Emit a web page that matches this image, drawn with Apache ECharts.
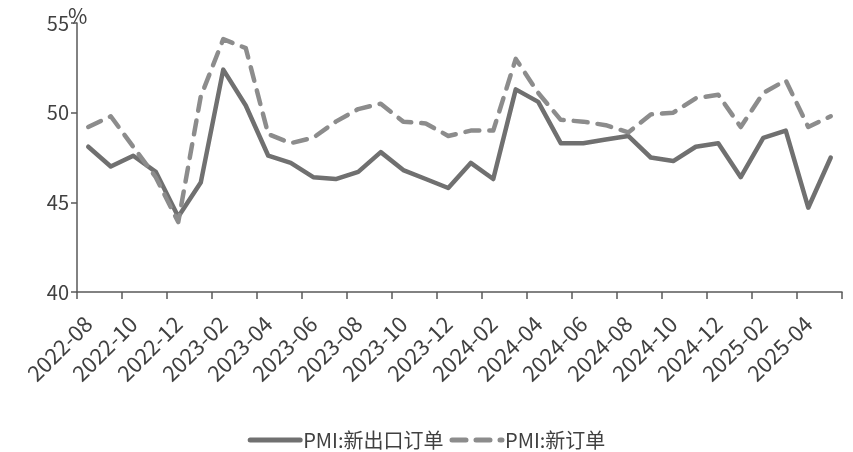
<!DOCTYPE html>
<html><head><meta charset="utf-8">
<script src="https://cdn.jsdelivr.net/npm/echarts@6/dist/echarts.min.js"></script>
<style>html,body{margin:0;padding:0;background:#fff}#c{width:853px;height:452px}</style>
</head><body><div id="c"></div>
<script>
const categories = ['2022-08','2022-09','2022-10','2022-11','2022-12','2023-01','2023-02','2023-03','2023-04','2023-05','2023-06','2023-07','2023-08','2023-09','2023-10','2023-11','2023-12','2024-01','2024-02','2024-03','2024-04','2024-05','2024-06','2024-07','2024-08','2024-09','2024-10','2024-11','2024-12','2025-01','2025-02','2025-03','2025-04','2025-05'];
const exportOrders = [48.1,47.0,47.6,46.7,44.2,46.1,52.4,50.4,47.6,47.2,46.4,46.3,46.7,47.8,46.8,46.3,45.8,47.2,46.3,51.3,50.6,48.3,48.3,48.5,48.7,47.5,47.3,48.1,48.3,46.4,48.6,49.0,44.7,47.5];
const newOrders = [49.2,49.8,48.1,46.4,43.9,50.9,54.1,53.6,48.8,48.3,48.6,49.5,50.2,50.5,49.5,49.4,48.7,49.0,49.0,53.0,51.1,49.6,49.5,49.3,48.9,49.9,50.0,50.8,51.0,49.2,51.1,51.8,49.2,49.8];
const yTicks = {min:40, max:55, interval:5};
const FONT = '"Noto Sans CJK SC", "Noto Sans", sans-serif';
const chart = echarts.init(document.getElementById('c'));
chart.setOption({
  animation:false,
  grid:{left:77,right:11,top:23,bottom:160,containLabel:false,outerBoundsMode:'none'},
  legend:{
    top:425,left:'center',itemWidth:50,itemHeight:12,itemGap:6,
    itemStyle:{opacity:0},
    lineStyle:{width:5},
    textStyle:{fontFamily:FONT,fontSize:20,color:'#404040',padding:[0,0,0,-2]},
    data:['PMI:新出口订单','PMI:新订单']
  },
  xAxis:{
    type:'category',data:categories,boundaryGap:true,
    axisLine:{lineStyle:{color:'#595959',width:1.5}},
    axisTick:{show:true,interval:1,length:7,lineStyle:{color:'#595959',width:1.5}},
    axisLabel:{interval:1,rotate:45,fontFamily:FONT,fontSize:22,color:'#404040',margin:28},
    splitLine:{show:false}
  },
  yAxis:{
    type:'value',min:yTicks.min,max:yTicks.max,interval:yTicks.interval,
    name:'%',nameLocation:'end',nameGap:-4,nameMoveOverlap:false,
    nameTextStyle:{fontFamily:FONT,fontSize:21,color:'#404040',align:'left',padding:[0,0,0,-9]},
    axisLine:{show:true,lineStyle:{color:'#595959',width:1.5}},
    axisTick:{show:true,length:6,lineStyle:{color:'#595959',width:1.5}},
    axisLabel:{fontFamily:FONT,fontSize:20,color:'#404040',margin:8},
    splitLine:{show:false}
  },
  series:[
    {name:'PMI:新出口订单',type:'line',data:exportOrders,symbol:'none',
     lineStyle:{color:'#707070',width:4.5,cap:'round',join:'round'},itemStyle:{color:'#707070'}},
    {name:'PMI:新订单',type:'line',data:newOrders,symbol:'none',
     lineStyle:{color:'#8c8c8c',width:4.5,type:[14,10],cap:'round',join:'round'},itemStyle:{color:'#8c8c8c'}}
  ]
});
</script></body></html>
